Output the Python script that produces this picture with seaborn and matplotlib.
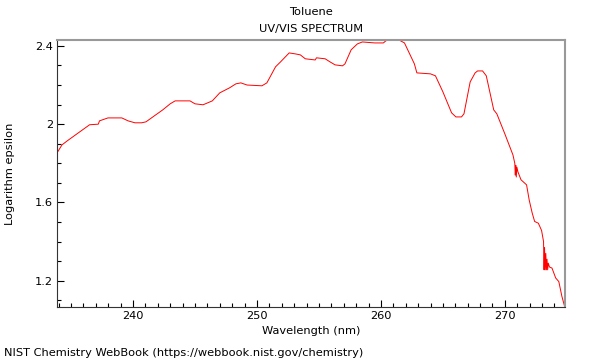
import numpy as np
import pandas as pd
import matplotlib
matplotlib.use('Agg')
import matplotlib.pyplot as plt
import seaborn as sns
from matplotlib.ticker import MultipleLocator, FuncFormatter

# values
wavelength = [233.87, 234.27, 234.7, 235.6, 236.5, 237.2, 237.3, 237.98, 239.1, 239.6,
              240.16, 240.7, 241.05, 241.6, 242.4, 243.0, 243.4, 244.6, 245.0, 245.65,
              246.4, 247.0, 247.8, 248.3, 248.7, 249.2, 250.4, 250.8, 251.5, 251.9,
              252.6, 253.1, 253.5, 253.9, 254.7, 254.8, 255.5, 255.9, 256.3, 256.9,
              257.1, 257.6, 258.1, 258.5, 259.5, 260.2, 260.4, 260.8, 261.4, 261.9,
              262.7, 262.9, 264.0, 264.4, 265.0, 265.7, 266.05, 266.5, 266.7, 267.2,
              267.6, 267.8, 268.2, 268.5, 269.1, 269.35, 270.0, 270.65, 270.8, 270.84,
              270.88, 270.92, 270.97, 271.05, 271.3, 271.75, 271.96, 272.2, 272.4, 272.7,
              272.96, 273.12, 273.16, 273.2, 273.25, 273.3, 273.35, 273.4, 273.45, 273.5,
              273.6, 273.8, 274.1, 274.35, 274.6, 274.84]
log_eps = [1.853, 1.894, 1.915, 1.956, 1.997, 2.0, 2.017, 2.032, 2.032, 2.017,
           2.007, 2.007, 2.012, 2.037, 2.073, 2.104, 2.119, 2.119, 2.104, 2.099,
           2.119, 2.16, 2.186, 2.206, 2.211, 2.2, 2.196, 2.211, 2.293, 2.318,
           2.364, 2.359, 2.354, 2.334, 2.328, 2.339, 2.334, 2.318, 2.303, 2.298,
           2.308, 2.38, 2.41, 2.42, 2.415, 2.415, 2.426, 2.432, 2.432, 2.415,
           2.308, 2.262, 2.257, 2.247, 2.165, 2.058, 2.037, 2.037, 2.053, 2.216,
           2.262, 2.272, 2.272, 2.247, 2.073, 2.053, 1.95, 1.843, 1.80, 1.74,
           1.79, 1.73, 1.78, 1.757, 1.716, 1.69, 1.613, 1.547, 1.503, 1.494,
           1.457, 1.40, 1.256, 1.37, 1.256, 1.34, 1.256, 1.31, 1.256, 1.29,
           1.27, 1.265, 1.214, 1.196, 1.12, 1.064]

df = pd.DataFrame({"wavelength": wavelength, "log_eps": log_eps})

sns.set_style("ticks")
plt.rcParams['font.family'] = ['DejaVu Sans']
plt.rcParams['text.color'] = 'black'
plt.rcParams['axes.labelcolor'] = 'black'
fs = 8.2

fig = plt.figure(figsize=(6, 3.6), dpi=100)
ax = fig.add_axes([57 / 600, 53 / 360, 508 / 600, 267 / 360])

sns.lineplot(data=df, x="wavelength", y="log_eps", ax=ax, color="red",
             linewidth=0.7, estimator=None, sort=False)

ax.set_xlim(233.87, 274.85)
ax.set_ylim(1.066, 2.43)

ax.xaxis.set_major_locator(MultipleLocator(10))
ax.xaxis.set_minor_locator(MultipleLocator(1))
ax.yaxis.set_major_locator(MultipleLocator(0.4))
ax.yaxis.set_minor_locator(MultipleLocator(0.1))
ax.yaxis.set_major_formatter(FuncFormatter(lambda v, p: "{:g}".format(round(v, 2))))

ax.tick_params(which="both", direction="in", top=False, right=False, labelsize=fs,
               colors="black", labelcolor="black")
ax.tick_params(which="major", length=5, width=0.8, pad=3)
ax.tick_params(which="minor", length=3, width=0.8)

for s in ["top", "right"]:
    ax.spines[s].set_color("#999999")
    ax.spines[s].set_linewidth(1.5)
for s in ["left", "bottom"]:
    ax.spines[s].set_color("#333333")
    ax.spines[s].set_linewidth(0.8)

ax.set_xlabel("Wavelength (nm)", fontsize=fs, color="black")
ax.set_ylabel("Logarithm epsilon", fontsize=fs, color="black")
ax.xaxis.set_label_coords(0.5, -(331 - 307) / 267, transform=ax.transAxes)
ax.xaxis.label.set_va("center")
ax.yaxis.set_label_coords(-(57 - 10) / 508, 0.5, transform=ax.transAxes)
ax.yaxis.label.set_va("center")

fig.text(311 / 600, 1 - 12 / 360, "Toluene", ha="center", va="center", fontsize=fs)
fig.text(311 / 600, 1 - 29 / 360, "UV/VIS SPECTRUM", ha="center", va="center", fontsize=fs)
fig.text(4 / 600, 1 - 353 / 360, "NIST Chemistry WebBook (https://webbook.nist.gov/chemistry)",
         ha="left", va="center", fontsize=fs)

fig.savefig("out.png", dpi=100)
